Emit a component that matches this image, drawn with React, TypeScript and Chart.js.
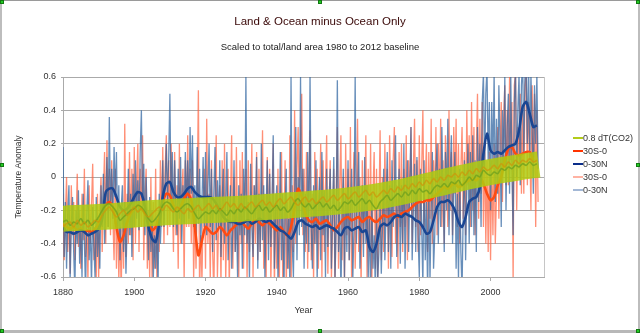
import React, { useEffect, useRef } from "react";
import { Chart, registerables } from "chart.js";

Chart.register(...registerables);

const FONT = '"Liberation Sans", Arial, sans-serif';

// Years and scale labels
const startYear = 1880;
const noisyPerYear = 3;
const xTickStep = 20;
const yTickStep = 0.2;

// 0.8 dT(CO2) curve (year, value)
const co2Years = [1880, 1890, 1900, 1910, 1920, 1930, 1940, 1950, 1960, 1970, 1980, 1990, 2000, 2010, 2013.5];
const co2Values = [-0.25, -0.24, -0.225, -0.21, -0.2, -0.19, -0.175, -0.16, -0.14, -0.11, -0.065, -0.015, 0.03, 0.065, 0.075];

// Smoothed 30S-0 (yearly, from 1880)
const smooth30S = [
  -0.28, -0.30, -0.31, -0.30, -0.32, -0.31, -0.33, -0.32, -0.33, -0.31,
  -0.28, -0.22, -0.17, -0.15, -0.18, -0.30, -0.39, -0.35, -0.27, -0.22,
  -0.19, -0.17, -0.19, -0.22, -0.28, -0.32, -0.30, -0.24, -0.15, -0.10,
  -0.11, -0.17, -0.20, -0.18, -0.13, -0.10, -0.14, -0.30, -0.47, -0.38,
  -0.30, -0.32, -0.34, -0.33, -0.30, -0.32, -0.35, -0.32, -0.30, -0.28,
  -0.27, -0.29, -0.31, -0.28, -0.26, -0.27, -0.29, -0.27, -0.28, -0.30,
  -0.32, -0.30, -0.33, -0.35, -0.30, -0.18, -0.07, -0.12, -0.22, -0.26,
  -0.27, -0.25, -0.28, -0.27, -0.26, -0.29, -0.32, -0.30, -0.27, -0.25,
  -0.24, -0.26, -0.25, -0.24, -0.27, -0.25, -0.24, -0.26, -0.27, -0.25,
  -0.23, -0.24, -0.23, -0.22, -0.24, -0.22, -0.21, -0.20, -0.18, -0.16,
  -0.15, -0.15, -0.14, -0.14, -0.12, -0.10, -0.08, -0.06, -0.07, -0.05,
  -0.04, -0.06, -0.05, -0.03, -0.02, -0.01, -0.02, 0.00, -0.04, -0.10,
  -0.14, -0.12, -0.05, 0.00, 0.10, 0.17, 0.18, 0.14, 0.13, 0.14,
  0.15, 0.15, 0.10,
];

// Smoothed 0-30N (yearly, from 1880)
const smooth030N = [
  -0.30, -0.33, -0.33, -0.34, -0.33, -0.32, -0.33, -0.35, -0.34, -0.33,
  -0.31, -0.25, -0.09, -0.07, -0.07, -0.12, -0.18, -0.20, -0.19, -0.16,
  -0.12, -0.09, -0.10, -0.18, -0.30, -0.37, -0.39, -0.28, -0.12, -0.04,
  -0.03, -0.09, -0.12, -0.12, -0.10, -0.07, -0.06, -0.09, -0.11, -0.12,
  -0.12, -0.12, -0.13, -0.16, -0.20, -0.24, -0.26, -0.27, -0.27, -0.28,
  -0.28, -0.27, -0.26, -0.28, -0.27, -0.25, -0.26, -0.27, -0.26, -0.28,
  -0.30, -0.32, -0.33, -0.35, -0.37, -0.33, -0.27, -0.26, -0.28, -0.29,
  -0.30, -0.29, -0.31, -0.30, -0.29, -0.30, -0.31, -0.33, -0.35, -0.31,
  -0.30, -0.32, -0.31, -0.30, -0.33, -0.32, -0.42, -0.45, -0.40, -0.30,
  -0.28, -0.29, -0.27, -0.24, -0.23, -0.24, -0.22, -0.23, -0.24, -0.26,
  -0.27, -0.30, -0.34, -0.33, -0.26, -0.18, -0.15, -0.15, -0.14, -0.16,
  -0.20, -0.27, -0.30, -0.24, -0.15, -0.13, -0.12, -0.06, 0.14, 0.26,
  0.16, 0.14, 0.15, 0.14, 0.16, 0.18, 0.19, 0.20, 0.28, 0.42,
  0.45, 0.38, 0.30, 0.31,
];

// Monthly-style 30S-0 (3 per year, from 1880)
const monthly30S = [
  -0.10, -0.50, -0.25, 0.00, -0.45, -0.20, -0.58, -0.05, -0.35, -0.15, -0.50, -0.28, 0.02, -0.42, -0.20,
  -0.55, -0.10, -0.38, 0.05, -0.48, -0.25, -0.62, -0.05, -0.40, -0.18, 0.08, -0.50, -0.30, -0.60, -0.10,
  -0.62, -0.20, 0.00, -0.45, -0.10, 0.15, -0.40, 0.22, -0.30, 0.05, -0.35, 0.10, -0.25, -0.50, 0.05,
  -0.55, -0.15, -0.62, -0.30, -0.70, -0.20, -0.55, 0.32, -0.48, -0.10, -0.40, 0.15, -0.35, 0.05, -0.50,
  0.18, -0.40, -0.05, 0.20, -0.45, 0.05, -0.30, 0.25, -0.50, -0.10, 0.05, -0.55, -0.20, -0.62, 0.00,
  -0.62, -0.15, -0.55, 0.05, -0.60, -0.20, -0.45, 0.10, -0.30, 0.18, -0.40, 0.05, 0.25, -0.35, 0.10,
  -0.30, 0.20, -0.10, -0.45, 0.15, -0.35, -0.05, -0.55, 0.20, -0.40, -0.10, 0.05, -0.62, 0.10, -0.30,
  0.25, -0.30, 0.05, -0.40, 0.10, -0.62, -0.20, -0.55, -0.10, 0.52, -0.70, -0.35, -0.62, -0.20, 0.05,
  -0.55, 0.35, -0.40, -0.10, -0.62, 0.10, -0.45, -0.70, -0.15, 0.25, -0.60, -0.30, -0.05, -0.65, 0.10,
  -0.50, 0.20, -0.62, -0.25, 0.05, -0.68, -0.15, 0.25, -0.55, 0.00, -0.45, 0.18, -0.35, -0.60, 0.10,
  -0.40, 0.15, -0.55, -0.10, 0.05, -0.62, 0.10, -0.45, -0.20, 0.20, -0.60, -0.05, -0.40, 0.15, -0.50,
  0.05, -0.45, -0.20, 0.28, -0.55, -0.10, -0.65, 0.12, -0.40, 0.05, -0.62, -0.25, 0.20, -0.68, -0.10,
  -0.55, 0.05, -0.70, -0.20, 0.15, -0.62, -0.35, 0.10, -0.68, -0.15, -0.55, 0.25, -0.70, -0.05, -0.45,
  0.40, -0.40, 0.05, 0.30, -0.25, 0.20, 0.50, -0.35, 0.05, -0.45, 0.15, -0.55, -0.05, 0.28, -0.50,
  -0.10, -0.62, 0.15, -0.40, 0.05, -0.55, -0.15, 0.20, -0.60, 0.10, -0.45, -0.05, 0.25, -0.58, -0.20,
  0.10, -0.62, -0.30, 0.05, -0.68, -0.15, 0.30, -0.55, -0.05, 0.25, -0.50, 0.00, -0.62, 0.20, -0.35,
  0.05, -0.50, 0.30, -0.62, -0.10, 0.15, -0.55, -0.20, 0.35, -0.45, 0.00, -0.68, 0.10, -0.40, -0.15,
  0.25, -0.60, 0.05, -0.45, 0.20, -0.65, -0.10, 0.15, -0.55, 0.05, -0.62, -0.20, 0.28, -0.50, 0.00,
  -0.45, 0.20, -0.30, 0.05, -0.55, 0.25, -0.15, -0.48, 0.10, 0.30, -0.40, -0.05, -0.55, 0.15, -0.30,
  0.20, -0.45, 0.05, -0.30, 0.25, -0.50, 0.10, -0.20, 0.30, -0.40, 0.05, 0.35, -0.30, 0.10, -0.45,
  0.25, -0.35, 0.05, 0.40, -0.30, -0.05, 0.20, -0.45, 0.15, -0.25, 0.35, -0.40, 0.10, -0.20, 0.30,
  -0.35, 0.20, -0.15, 0.35, -0.30, 0.10, -0.40, 0.25, 0.05, -0.30, 0.40, -0.20, 0.15, -0.35, 0.30,
  -0.10, 0.35, -0.30, 0.20, -0.40, 0.05, 0.30, -0.25, 0.15, -0.35, 0.40, -0.05, 0.25, -0.30, 0.45,
  -0.20, 0.30, -0.35, 0.15, 0.50, -0.25, 0.35, -0.10, 0.45, -0.30, 0.20, -0.40, 0.10, -0.45, 0.15,
  -0.50, 0.10, -0.35, 0.20, -0.40, -0.10, 0.30, -0.25, 0.15, 0.45, -0.15, 0.35, 0.55, -0.05, 0.40,
  -0.05, 0.60, 0.10, 0.45, -0.62, 0.55, 0.62, -0.20, 0.30, 0.05, 0.50, -0.10, 0.40, -0.10, 0.55,
  0.62, -0.05, 0.45, 0.20, -0.20, 0.55, 0.00, 0.50, -0.30, 0.40, -0.15,
];

// Monthly-style 0-30N (3 per year, from 1880)
const monthly030N = [
  0.18, -0.48, -0.15, -0.55, -0.22, -0.05, -0.62, -0.30, -0.12, -0.45, -0.68, -0.20, -0.40, -0.08, -0.52,
  -0.28, -0.60, -0.10, -0.38, -0.70, -0.22, -0.02, -0.50, -0.30, -0.65, -0.18, -0.42, -0.60, -0.12, -0.48,
  -0.25, -0.55, -0.05, -0.30, 0.02, -0.40, -0.15, 0.12, -0.30, 0.36, -0.20, 0.05, -0.25, 0.18, -0.12,
  0.15, -0.35, -0.05, -0.50, -0.20, -0.05, -0.45, -0.15, -0.58, -0.28, 0.05, -0.35, -0.10, -0.48, 0.02,
  -0.30, 0.10, -0.25, -0.02, -0.32, 0.15, 0.40, -0.20, 0.08, -0.35, 0.00, -0.28, -0.50, -0.12, -0.45,
  -0.20, -0.62, -0.35, -0.55, -0.25, -0.68, -0.10, -0.40, -0.20, 0.10, -0.30, -0.05, 0.20, -0.15, 0.12,
  0.50, -0.20, 0.15, -0.30, 0.10, -0.18, -0.35, 0.05, -0.25, 0.12, -0.40, -0.05, -0.28, 0.15, -0.20,
  0.10, -0.25, 0.30, -0.10, 0.25, -0.30, -0.05, -0.35, 0.18, -0.28, 0.05, -0.40, -0.15, 0.12, -0.30,
  0.15, -0.35, -0.05, 0.20, -0.30, 0.05, -0.45, -0.10, 0.18, -0.38, -0.02, -0.30, 0.10, -0.48, -0.15,
  0.05, -0.40, -0.15, 0.15, -0.50, -0.25, -0.05, -0.55, -0.30, 0.10, -0.45, -0.20, -0.60, -0.05, -0.35,
  -0.10, -0.55, 0.05, -0.35, 0.60, -0.40, -0.15, -0.62, 0.08, -0.30, -0.48, -0.05, -0.25, 0.12, -0.55,
  -0.10, -0.45, 0.20, -0.38, -0.05, -0.60, -0.20, 0.10, -0.50, 0.02, -0.42, -0.15, 0.25, -0.55, -0.20,
  -0.05, -0.62, -0.30, 0.15, -0.50, -0.10, -0.70, -0.20, 0.05, -0.55, -0.25, -0.65, 0.60, -0.40, -0.60,
  -0.15, 0.30, -0.50, 0.00, -0.35, 0.60, -0.30, 0.05, -0.55, -0.10, -0.40, 0.15, -0.45, 0.62, -0.30,
  -0.55, -0.05, -0.40, 0.10, -0.62, -0.20, 0.00, -0.50, 0.15, -0.35, -0.08, -0.60, 0.05, -0.42, -0.15,
  0.05, -0.55, -0.20, 0.12, -0.62, -0.30, 0.58, -0.45, -0.15, -0.70, -0.25, 0.05, -0.60, -0.10, -0.45,
  0.10, -0.50, -0.20, 0.05, -0.62, -0.30, 0.60, -0.40, -0.10, 0.15, -0.55, -0.25, -0.05, -0.48, 0.12,
  -0.40, -0.05, -0.60, -0.25, -0.70, -0.10, -0.55, -0.35, -0.68, -0.20, -0.62, -0.45, -0.15, -0.58, -0.30,
  0.05, -0.50, -0.20, 0.15, -0.45, -0.05, -0.55, 0.10, -0.30, -0.10, 0.25, -0.48, -0.20, 0.05, -0.52,
  -0.05, -0.40, 0.20, -0.55, -0.15, 0.10, -0.45, -0.05, 0.30, -0.50, -0.20, 0.08, -0.45, 0.12, -0.35,
  -0.60, 0.05, -0.30, -0.65, 0.10, -0.50, -0.15, -0.70, -0.05, -0.62, -0.20, 0.15, -0.55, -0.35, 0.05,
  0.20, -0.40, 0.05, -0.30, 0.30, -0.10, -0.45, 0.15, -0.20, 0.35, -0.35, 0.00, 0.25, -0.40, -0.05,
  0.15, -0.55, -0.10, -0.62, 0.05, -0.45, -0.68, -0.20, 0.10, -0.50, -0.05, 0.20, -0.40, 0.15, -0.30,
  0.25, -0.35, 0.10, -0.45, 0.30, -0.15, 0.20, -0.30, 0.45, 0.62, 0.05, 0.50, 0.65, 0.10, 0.45,
  -0.20, 0.45, 0.05, 0.62, -0.15, 0.35, -0.10, 0.55, 0.20, -0.30, 0.40, 0.05, 0.60, -0.20, 0.30,
  0.50, -0.10, 0.62, 0.05, -0.35, 0.45, 0.65, 0.00, 0.40, 0.62, -0.05, 0.55, 0.70, 0.15, 0.62,
  0.65, 0.20, 0.70, 0.10, 0.62, 0.30, -0.10, 0.55, 0.20, 0.62, 0.05,
];

// Wiggles seen inside the dT(CO2) band (yearly, from 1880)
const bandInnerGreen = [
  -0.27, -0.26, -0.29, -0.27, -0.28, -0.25, -0.28, -0.26, -0.29, -0.27,
  -0.24, -0.20, -0.17, -0.16, -0.18, -0.21, -0.26, -0.24, -0.22, -0.20,
  -0.19, -0.17, -0.18, -0.21, -0.25, -0.27, -0.25, -0.22, -0.17, -0.15,
  -0.16, -0.19, -0.21, -0.19, -0.17, -0.16, -0.18, -0.22, -0.25, -0.23,
  -0.21, -0.22, -0.20, -0.22, -0.19, -0.21, -0.23, -0.20, -0.22, -0.19,
  -0.21, -0.18, -0.20, -0.22, -0.19, -0.17, -0.20, -0.18, -0.21, -0.19,
  -0.17, -0.20, -0.18, -0.21, -0.19, -0.15, -0.13, -0.16, -0.18, -0.16,
  -0.19, -0.17, -0.15, -0.18, -0.16, -0.19, -0.17, -0.20, -0.18, -0.15,
  -0.16, -0.14, -0.17, -0.15, -0.13, -0.16, -0.14, -0.17, -0.19, -0.15,
  -0.13, -0.11, -0.14, -0.12, -0.10, -0.12, -0.09, -0.11, -0.08, -0.10,
  -0.07, -0.09, -0.08, -0.10, -0.07, -0.05, -0.06, -0.04, -0.06, -0.03,
  -0.04, -0.02, -0.05, -0.03, 0.00, -0.02, 0.01, 0.00, 0.04, 0.02,
  0.01, 0.03, 0.02, 0.05, 0.04, 0.06, 0.05, 0.07, 0.06, 0.08,
  0.07, 0.09, 0.07, 0.08,
];
const bandInnerGold = [
  -0.30, -0.28, -0.27, -0.30, -0.26, -0.29, -0.27, -0.30, -0.28, -0.26,
  -0.27, -0.23, -0.20, -0.18, -0.21, -0.24, -0.22, -0.20, -0.23, -0.21,
  -0.18, -0.21, -0.19, -0.22, -0.24, -0.22, -0.20, -0.18, -0.20, -0.17,
  -0.19, -0.21, -0.18, -0.20, -0.22, -0.19, -0.21, -0.19, -0.17, -0.20,
  -0.18, -0.16, -0.19, -0.17, -0.20, -0.18, -0.15, -0.18, -0.16, -0.19,
  -0.16, -0.19, -0.17, -0.15, -0.18, -0.16, -0.14, -0.17, -0.15, -0.18,
  -0.15, -0.13, -0.16, -0.14, -0.12, -0.15, -0.17, -0.14, -0.12, -0.15,
  -0.13, -0.16, -0.14, -0.12, -0.15, -0.13, -0.11, -0.14, -0.12, -0.10,
  -0.13, -0.11, -0.09, -0.12, -0.10, -0.08, -0.11, -0.09, -0.12, -0.10,
  -0.08, -0.10, -0.07, -0.09, -0.06, -0.08, -0.05, -0.07, -0.04, -0.06,
  -0.03, -0.05, -0.02, -0.04, -0.01, -0.03, 0.00, -0.02, 0.01, 0.00,
  0.02, 0.00, 0.03, 0.01, 0.04, 0.02, 0.05, 0.03, 0.06, 0.04,
  0.05, 0.07, 0.05, 0.08, 0.06, 0.09, 0.07, 0.10, 0.08, 0.10,
  0.09, 0.11, 0.09, 0.10,
];

const legendItems = [
  { label: "0.8 dT(CO2)", color: "#b3cc1a" },
  { label: "30S-0", color: "#ff3300" },
  { label: "0-30N", color: "#0a2d8a" },
  { label: "30S-0", color: "#ffb3a3" },
  { label: "0-30N", color: "#a3b8d6" },
];

const seriesPoints = (values: number[], perYear: number) =>
  values.map((v, i) => ({ x: startYear + i / perYear, y: v }));

const framePlugin = {
  id: "rightFrame",
  beforeDatasetsDraw(chart: any) {
    const { ctx, chartArea: a } = chart;
    ctx.save();
    ctx.strokeStyle = "#c6c6c6";
    ctx.lineWidth = 1;
    ctx.beginPath();
    ctx.moveTo(Math.round(a.right) + 0.5, a.top);
    ctx.lineTo(Math.round(a.right) + 0.5, a.bottom);
    ctx.stroke();
    ctx.restore();
  },
};

const handle = (left: number, top: number) => (
  <div
    key={`${left}-${top}`}
    style={{
      position: "absolute",
      left,
      top,
      width: 4,
      height: 4,
      background: "#22cc22",
      border: "1px solid #117711",
      boxSizing: "border-box",
    }}
  />
);

export default function App() {
  const canvasRef = useRef<HTMLCanvasElement>(null);

  useEffect(() => {
    const canvas = canvasRef.current;
    if (!canvas) return;
    const chart = new Chart(canvas, {
      type: "line",
      data: {
        datasets: [
          {
            label: "inner-gold",
            data: seriesPoints(bandInnerGold, 1),
            borderColor: "rgba(205,150,10,0.7)",
            borderWidth: 1.6,
            pointRadius: 0,
            tension: 0.3,
            order: 0,
          },
          {
            label: "inner-green",
            data: seriesPoints(bandInnerGreen, 1),
            borderColor: "rgba(110,160,30,0.75)",
            borderWidth: 1.6,
            pointRadius: 0,
            tension: 0.3,
            order: 1,
          },
          {
            label: "0.8 dT(CO2)",
            data: co2Years.map((y, i) => ({ x: y, y: co2Values[i] })),
            borderColor: "rgba(175,205,15,0.85)",
            borderWidth: 26,
            borderCapStyle: "butt",
            pointRadius: 0,
            tension: 0.4,
            order: 2,
          },
          {
            label: "0-30N smooth",
            data: seriesPoints(smooth030N, 1),
            borderColor: "#1a4693",
            borderWidth: 2.6,
            pointRadius: 0,
            tension: 0.25,
            order: 3,
          },
          {
            label: "30S-0 smooth",
            data: seriesPoints(smooth30S, 1),
            borderColor: "#ff4a12",
            borderWidth: 2.6,
            pointRadius: 0,
            tension: 0.25,
            order: 4,
          },
          {
            label: "0-30N",
            data: seriesPoints(monthly030N, noisyPerYear),
            borderColor: "rgba(45,98,160,0.72)",
            borderWidth: 1.3,
            pointRadius: 0,
            tension: 0,
            order: 5,
          },
          {
            label: "30S-0",
            data: seriesPoints(monthly30S, noisyPerYear),
            borderColor: "rgba(255,95,60,0.7)",
            borderWidth: 1.3,
            pointRadius: 0,
            tension: 0,
            order: 6,
          },
        ],
      },
      options: {
        responsive: false,
        animation: false,
        devicePixelRatio: 1,
        events: [],
        layout: { padding: { left: 10, right: 96, top: 77, bottom: 13 } },
        plugins: {
          legend: { display: false },
          tooltip: { enabled: false },
          title: { display: false },
        },
        scales: {
          x: {
            type: "linear",
            min: 1880,
            max: 2015,
            afterFit: (s: any) => {
              s.height = 43;
            },
            grid: { drawOnChartArea: false, color: "#aaaaaa", tickLength: 4 },
            border: { color: "#aaaaaa" },
            ticks: {
              stepSize: xTickStep,
              includeBounds: false,
              autoSkip: false,
              maxRotation: 0,
              padding: 6,
              color: "#333",
              font: { family: FONT, size: 9 },
              callback: (v: any) => String(v),
            },
            title: {
              display: true,
              text: "Year",
              color: "#333",
              font: { family: FONT, size: 9 },
              padding: { top: 4, bottom: 4 },
            },
          },
          y: {
            type: "linear",
            min: -0.6,
            max: 0.6,
            afterFit: (s: any) => {
              s.width = 53;
            },
            grid: { color: "#aaaaaa", tickLength: 2 },
            border: { color: "#aaaaaa" },
            ticks: {
              stepSize: yTickStep,
              padding: 5,
              color: "#333",
              font: { family: FONT, size: 9 },
              callback: (v: any) => {
                const n = Math.round(Number(v) * 10) / 10;
                return n === 0 ? "0" : String(n);
              },
            },
            title: {
              display: true,
              text: "Temperature Anomaly",
              color: "#333",
              font: { family: FONT, size: 8.5 },
              padding: { top: 4, bottom: 4 },
            },
          },
        },
      },
      plugins: [framePlugin],
    } as any);
    return () => chart.destroy();
  }, []);

  return (
    <div
      style={{
        position: "fixed",
        left: 0,
        top: 0,
        width: 640,
        height: 333,
        background: "#ffffff",
        overflow: "hidden",
        fontFamily: FONT,
      }}
    >
      <canvas ref={canvasRef} width={640} height={333} style={{ position: "absolute", left: 0, top: 0 }} />
      {/* selection frame */}
      <div style={{ position: "absolute", left: 0, top: 0, width: 640, height: 1, background: "#9a9a9a" }} />
      <div style={{ position: "absolute", left: 0, top: 0, width: 2, height: 333, background: "#bdbdbd" }} />
      <div style={{ position: "absolute", left: 638, top: 0, width: 2, height: 333, background: "#bdbdbd" }} />
      <div style={{ position: "absolute", left: 0, top: 330, width: 640, height: 3, background: "#b8b8b8" }} />
      {handle(0, 0)}
      {handle(318, 0)}
      {handle(636, 0)}
      {handle(0, 163)}
      {handle(636, 163)}
      {handle(0, 329)}
      {handle(318, 329)}
      {handle(636, 329)}
      {/* titles */}
      <div
        style={{
          position: "absolute",
          left: 0,
          width: 640,
          top: 14,
          lineHeight: "14px",
          textAlign: "center",
          fontSize: 11.5,
          color: "#3a0808",
        }}
      >
        Land &amp; Ocean minus Ocean Only
      </div>
      <div
        style={{
          position: "absolute",
          left: 0,
          width: 640,
          top: 41,
          lineHeight: "12px",
          textAlign: "center",
          fontSize: 9.5,
          color: "#222",
        }}
      >
        Scaled to total/land area 1980 to 2012 baseline
      </div>
      {/* legend */}
      {legendItems.map((it, i) => (
        <div
          key={i}
          style={{ position: "absolute", left: 573, top: 132 + i * 13, height: 12, width: 66 }}
        >
          <div
            style={{
              position: "absolute",
              left: 0,
              top: 5,
              width: 10,
              height: 2,
              background: it.color,
            }}
          />
          <div
            style={{
              position: "absolute",
              left: 10,
              top: 0,
              lineHeight: "12px",
              fontSize: 9,
              color: "#333",
              whiteSpace: "nowrap",
            }}
          >
            {it.label}
          </div>
        </div>
      ))}
    </div>
  );
}
